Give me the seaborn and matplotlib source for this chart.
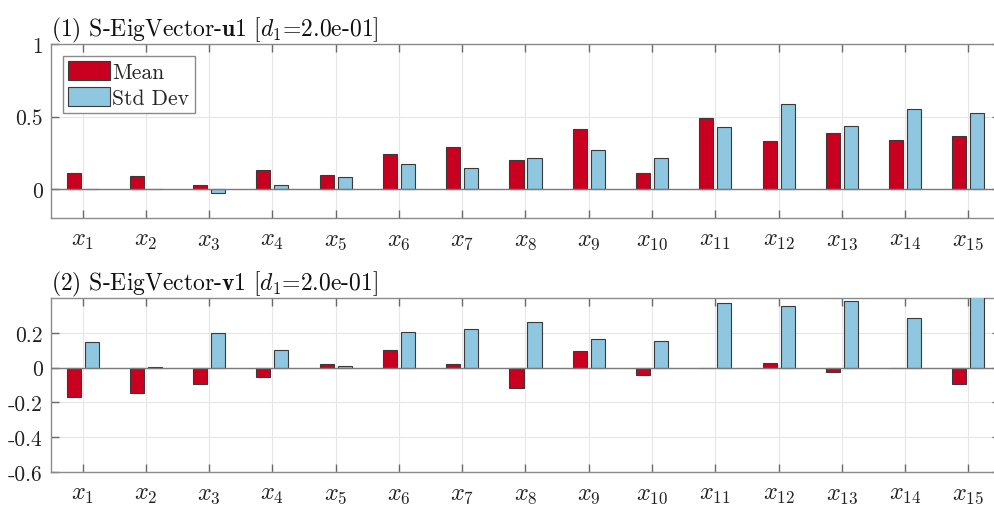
import numpy as np
import pandas as pd
import matplotlib
matplotlib.use("Agg")
import matplotlib.pyplot as plt
import seaborn as sns

categories = [f"x{i}" for i in range(1, 16)]
xtick_labels = [f"$x_{{{i}}}$" for i in range(1, 16)]

u1_mean = [0.11, 0.09, 0.03, 0.13, 0.10, 0.24, 0.287, 0.197, 0.417, 0.110, 0.491, 0.333, 0.383, 0.339, 0.365]
u1_std = [-0.002, 0.002, -0.025, 0.03, 0.085, 0.17, 0.147, 0.216, 0.268, 0.213, 0.429, 0.585, 0.436, 0.553, 0.523]

v1_mean = [-0.167, -0.144, -0.092, -0.056, 0.021, 0.102, 0.021, -0.117, 0.094, -0.044, -0.004, 0.029, -0.025, -0.005, -0.092]
v1_std = [0.146, 0.002, 0.198, 0.102, 0.010, 0.204, 0.219, 0.262, 0.167, 0.154, 0.373, 0.354, 0.385, 0.283, 0.42]

titles = [r"(1) S-EigVector-$\mathbf{u}\mathbf{1}$ [$d_1$=2.0e-01]",
          r"(2) S-EigVector-$\mathbf{v}\mathbf{1}$ [$d_1$=2.0e-01]"]
series_names = ["Mean", "Std Dev"]
colors = ["#C9001F", "#8FC6E0"]

sns.set_theme(style="white")
plt.rcParams["font.family"] = "serif"
plt.rcParams["font.serif"] = ["cmr10", "DejaVu Serif"]
plt.rcParams["mathtext.fontset"] = "cm"
plt.rcParams["axes.unicode_minus"] = False
plt.rcParams["axes.formatter.use_mathtext"] = True

fig = plt.figure(figsize=(9.95, 5.10), dpi=100)
W = 995.0
H = 510.0
ax1 = fig.add_axes([51 / W, 1 - 219 / H, (1000 - 51) / W, (219 - 45) / H])
ax2 = fig.add_axes([51 / W, 1 - 473 / H, (1000 - 51) / W, (473 - 299) / H])


def make_df(mean, std):
    return pd.DataFrame({
        "var": categories * 2,
        "value": list(mean) + list(std),
        "stat": [series_names[0]] * len(categories) + [series_names[1]] * len(categories),
    })


panels = [
    (ax1, make_df(u1_mean, u1_std), (-0.2, 1.0), [0, 0.5, 1], ["0", "0.5", "1"], True),
    (ax2, make_df(v1_mean, v1_std), (-0.6, 0.4), [-0.6, -0.4, -0.2, 0, 0.2],
     ["-0.6", "-0.4", "-0.2", "0", "0.2"], False),
]

spine_c = "#8a8a8a"
for i, (ax, df, ylim, yt, ytl, show_leg) in enumerate(panels):
    sns.barplot(data=df, x="var", y="value", hue="stat", hue_order=series_names,
                order=categories, palette=colors, saturation=1, width=0.57, gap=0.22,
                edgecolor="#3a3a3a", linewidth=0.8, errorbar=None,
                legend=show_leg, ax=ax, zorder=3)
    ax.set_xlim(-0.5, 14.5)
    ax.set_ylim(*ylim)
    ax.set_yticks(yt)
    ax.set_yticklabels(ytl, fontsize=15.5)
    ax.set_xticks(range(len(categories)))
    ax.set_xticklabels(xtick_labels, fontsize=17.5)
    ax.set_xlabel("")
    ax.set_ylabel("")
    ax.grid(True, color="#e6e6e6", linewidth=0.8, zorder=0)
    ax.set_axisbelow(True)
    ax.axhline(0, color="#7a7a7a", linewidth=1.0, zorder=4)
    for s in ax.spines.values():
        s.set_color(spine_c)
        s.set_linewidth(1.0)
    ax.tick_params(axis="both", which="both", direction="in", length=6, width=1.0,
                   color="#6a6a6a", top=True, right=True, bottom=True, left=True,
                   labelcolor="#222222")
    ax.tick_params(axis="x", pad=8)
    ax.tick_params(axis="y", pad=6)
    ax.set_title(titles[i], loc="left", fontsize=17, pad=6, color="#111111")
    if show_leg:
        leg = ax.legend(loc="upper left", fontsize=15.5, frameon=True, fancybox=False,
                        edgecolor="#8a8a8a", framealpha=1.0, borderpad=0.25,
                        handlelength=1.95, handleheight=1.0, handletextpad=0.1,
                        labelspacing=0.2, borderaxespad=0.55)
        leg.get_frame().set_linewidth(1.0)

fig.savefig("out.png", dpi=100, facecolor="white")
